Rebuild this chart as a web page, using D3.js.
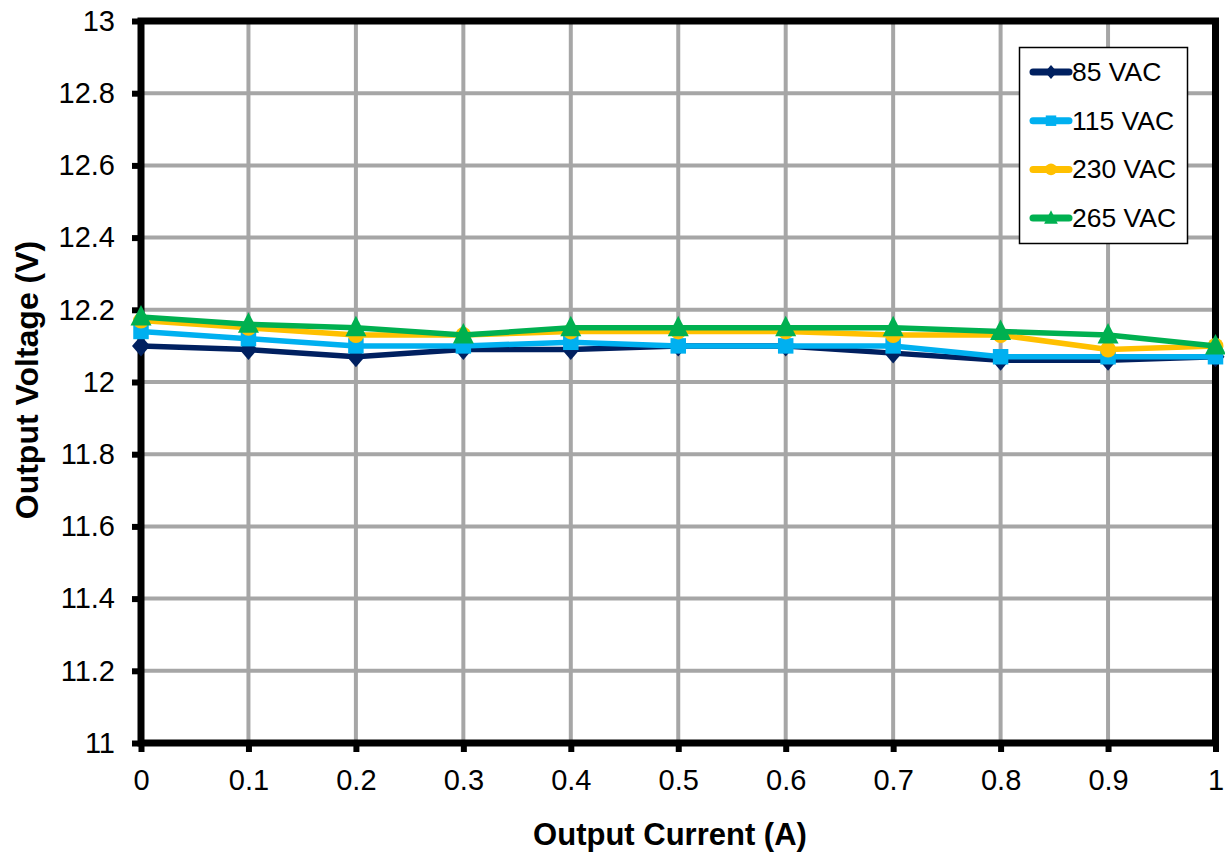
<!DOCTYPE html>
<html><head><meta charset="utf-8">
<script src="https://cdn.jsdelivr.net/npm/d3@7"></script>
<style>body{margin:0;background:#fff}svg{display:block;font-family:Arial,"Liberation Sans",sans-serif}</style>
</head><body><svg id="c" width="1225" height="854"></svg>
<script>
const currents = [0,0.1,0.2,0.3,0.4,0.5,0.6,0.7,0.8,0.9,1];
const v85  = [12.10,12.09,12.07,12.09,12.09,12.10,12.10,12.08,12.06,12.06,12.07];
const v115 = [12.14,12.12,12.10,12.10,12.11,12.10,12.10,12.10,12.07,12.07,12.07];
const v230 = [12.17,12.15,12.13,12.13,12.14,12.14,12.14,12.13,12.13,12.09,12.10];
const v265 = [12.18,12.16,12.15,12.13,12.15,12.15,12.15,12.15,12.14,12.13,12.10];
const seriesNames = ["85 VAC","115 VAC","230 VAC","265 VAC"];
const seriesColors = ["#002060","#00B0F0","#FFC000","#00B050"];
const xTicks = [0,0.1,0.2,0.3,0.4,0.5,0.6,0.7,0.8,0.9,1];
const yTicks = [11,11.2,11.4,11.6,11.8,12,12.2,12.4,12.6,12.8,13];

const svg = d3.select("#c");
const L=141, R=1215.5, T=21, B=743;
const x = d3.scaleLinear().domain([0,1]).range([L,R]);
const y = d3.scaleLinear().domain([11,13]).range([B,T]);

// grid
svg.append("g").selectAll("line").data(xTicks.slice(1,-1)).join("line")
  .attr("x1",d=>x(d)).attr("x2",d=>x(d)).attr("y1",T).attr("y2",B)
  .attr("stroke","#a6a6a6").attr("stroke-width",4);
svg.append("g").selectAll("line").data(yTicks.slice(1,-1)).join("line")
  .attr("x1",L).attr("x2",R).attr("y1",d=>y(d)).attr("y2",d=>y(d))
  .attr("stroke","#a6a6a6").attr("stroke-width",4);

// axes
const xAxis = d3.axisBottom(x).tickValues(xTicks).tickFormat(d3.format("~g")).tickSizeInner(9).tickSizeOuter(0).tickPadding(17);
const gx = svg.append("g").attr("transform",`translate(0,${B})`).call(xAxis);
const yAxis = d3.axisLeft(y).tickValues(yTicks).tickFormat(d3.format("~g")).tickSizeInner(9).tickSizeOuter(0).tickPadding(17);
const gy = svg.append("g").attr("transform",`translate(${L},0)`).call(yAxis);
[gx,gy].forEach(g=>{
  g.select(".domain").remove();
  g.selectAll(".tick line").attr("stroke","#000").attr("stroke-width",6);
  g.selectAll(".tick text").attr("font-size",29).attr("fill","#000").attr("font-family","Arial, 'Liberation Sans', sans-serif");
});

// frame
svg.append("rect").attr("x",L).attr("y",T).attr("width",R-L).attr("height",B-T)
  .attr("fill","none").attr("stroke","#000").attr("stroke-width",7);

// custom marker shapes
const triType = {draw(ctx,size){const s=Math.sqrt(size)/20; ctx.moveTo(0,-12*s); ctx.lineTo(10.5*s,8.5*s); ctx.lineTo(-10.5*s,8.5*s); ctx.closePath();}};
const diaType = {draw(ctx,size){const s=Math.sqrt(size)/20; ctx.moveTo(0,-10.5*s); ctx.lineTo(9*s,0); ctx.lineTo(0,10.5*s); ctx.lineTo(-9*s,0); ctx.closePath();}};

// series
const all = [v85,v115,v230,v265];
const line = d3.line().x((d,i)=>x(currents[i])).y(d=>y(d));
const symbols = [
  d3.symbol().type(diaType).size(400),
  d3.symbol().type(d3.symbolSquare).size(240),
  d3.symbol().type(d3.symbolCircle).size(200),
  d3.symbol().type(triType).size(400)
];
all.forEach((vals,k)=>{
  const g = svg.append("g");
  g.append("path").datum(vals).attr("d",line).attr("fill","none")
    .attr("stroke",seriesColors[k]).attr("stroke-width",5.5).attr("stroke-linejoin","round");
  g.selectAll("path.m").data(vals).join("path").attr("class","m")
    .attr("transform",(d,i)=>`translate(${x(currents[i])},${y(d)})`)
    .attr("d",symbols[k]()).attr("fill",seriesColors[k]);
});

// legend
const lg = svg.append("g");
lg.append("rect").attr("x",1019.5).attr("y",47.5).attr("width",168).attr("height",196)
  .attr("fill","#fff").attr("stroke","#000").attr("stroke-width",1.5);
const miniSym = [
  d3.symbol().type(diaType).size(180),
  d3.symbol().type(d3.symbolSquare).size(110),
  d3.symbol().type(d3.symbolCircle).size(110),
  d3.symbol().type(triType).size(170)
];
seriesNames.forEach((n,k)=>{
  const yy = 72 + k*48.7;
  lg.append("line").attr("x1",1033).attr("x2",1069).attr("y1",yy).attr("y2",yy)
    .attr("stroke",seriesColors[k]).attr("stroke-width",7).attr("stroke-linecap","round");
  lg.append("path").attr("transform",`translate(1051,${yy})`).attr("d",miniSym[k]()).attr("fill",seriesColors[k]);
  lg.append("text").attr("x",1072).attr("y",yy+9).attr("font-size",26.5).attr("fill","#000").text(n);
});

// titles
svg.append("text").attr("x",670).attr("y",845).attr("text-anchor","middle")
  .attr("font-size",31).attr("font-weight","bold").text("Output Current (A)");
svg.append("text").attr("transform",`translate(38,380) rotate(-90)`).attr("text-anchor","middle")
  .attr("font-size",32).attr("font-weight","bold").text("Output Voltage (V)");
</script></body></html>
